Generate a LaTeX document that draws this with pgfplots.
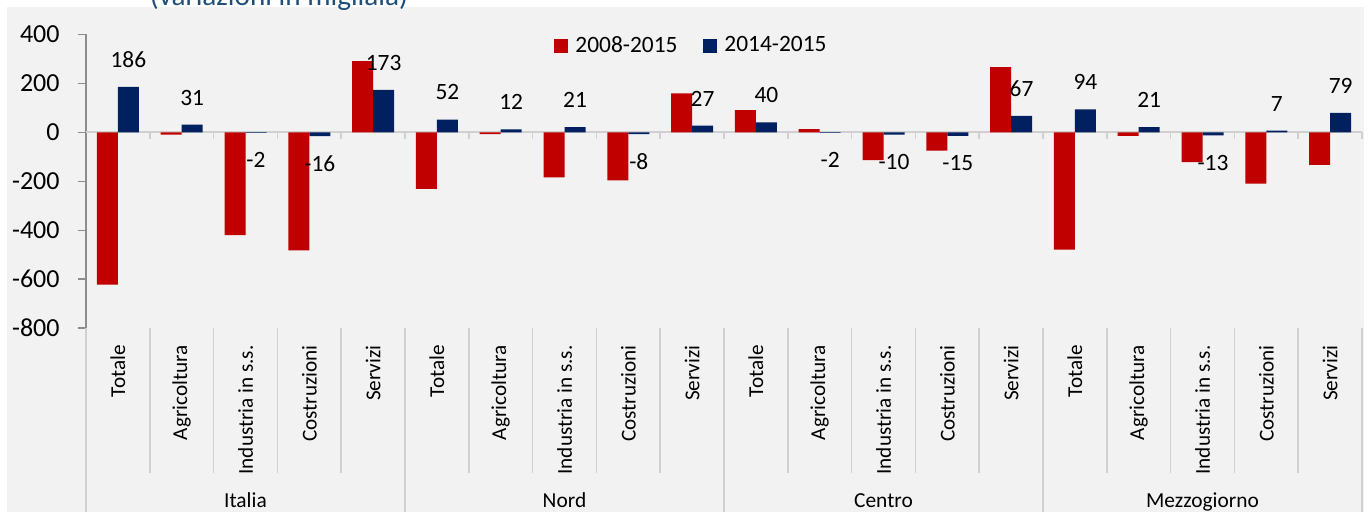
\documentclass[border=0pt]{standalone}
\usepackage{fontspec}
\setmainfont{Carlito}
\usepackage{pgfplots}
\pgfplotsset{compat=1.18}
\definecolor{cred}{HTML}{C00000}
\definecolor{cnavy}{HTML}{002060}
\definecolor{bggray}{HTML}{F2F2F2}
\definecolor{axgray}{HTML}{8C8C8C}
\definecolor{sepgray}{HTML}{D0D0D0}
\definecolor{titleblue}{HTML}{1F4E79}
\begin{document}
\begin{tikzpicture}
\fill[bggray] (-39.5pt,-92pt) rectangle (639pt,160.5pt);
\node[anchor=base, font=\fontsize{14.6}{17}\selectfont, text=titleblue, inner sep=0pt] at (96.5pt,161.25pt) {(variazioni in migliaia)};
\begin{axis}[
  at={(0pt,0pt)}, anchor=south west,
  scale only axis, width=638pt, height=146.8pt,
  xmin=-0.5, xmax=19.5, ymin=-800, ymax=400,
  ybar=0pt, bar width=10.5pt,
  axis x line*=bottom, axis y line*=left,
  x axis line style={draw=none},
  y axis line style={draw=axgray, line width=0.6pt},
  tick align=outside, major tick length=4pt,
  xtick={0,...,19},
  xticklabels={Totale,Agricoltura,Industria in s.s.,Costruzioni,Servizi,Totale,Agricoltura,Industria in s.s.,Costruzioni,Servizi,Totale,Agricoltura,Industria in s.s.,Costruzioni,Servizi,Totale,Agricoltura,Industria in s.s.,Costruzioni,Servizi},
  xtick style={draw=none},
  xticklabel style={yshift=-4.5pt, rotate=90, anchor=east, inner sep=0pt, font=\fontsize{10.6}{12}\selectfont},
  ytick={-800,-600,...,400},
  ytick style={draw=axgray, line width=0.6pt},
  yticklabel style={font=\fontsize{13}{15}\selectfont, inner sep=0pt, xshift=-9pt},
  /pgf/number format/assume math mode=true,
  clip=false,
  legend columns=2,
  legend style={at={(0.3668,0.962)}, anchor=west, draw=none, fill=none, inner sep=0pt, font=\fontsize{11.7}{14}\selectfont, nodes={inner xsep=3.5pt, inner ysep=0pt}, /tikz/every even column/.append style={column sep=9.5pt}},
  legend image code/.code={\fill[#1] (0pt,-3.5pt) rectangle (7pt,3.5pt);},
]
\draw[sepgray, line width=0.8pt] (axis cs:-0.5,0) -- (axis cs:19.5,0);
\pgfplotsinvokeforeach{0.5,1.5,2.5,3.5,4.5,5.5,6.5,7.5,8.5,9.5,10.5,11.5,12.5,13.5,14.5,15.5,16.5,17.5,18.5,19.5}{
  \draw[sepgray, line width=0.8pt] (axis cs:#1,0) -- ++(0pt,-3.5pt);
}
\pgfplotsinvokeforeach{0.5,1.5,2.5,3.5,5.5,6.5,7.5,8.5,10.5,11.5,12.5,13.5,15.5,16.5,17.5,18.5}{
  \draw[sepgray, line width=0.8pt] (axis cs:#1,-800) -- ++(0pt,-72.5pt);
}
\pgfplotsinvokeforeach{-0.5,4.5,9.5,14.5,19.5}{
  \draw[sepgray, line width=0.8pt] (axis cs:#1,-800) -- ++(0pt,-92pt);
}
\addplot[fill=cred, draw=none] coordinates {
 (0,-623) (1,-10) (2,-420) (3,-483) (4,291)
 (5,-231) (6,-8) (7,-184) (8,-197) (9,159)
 (10,90) (11,13) (12,-114) (13,-75) (14,266)
 (15,-480) (16,-15) (17,-122) (18,-210) (19,-133)};
\addlegendentry{2008-2015}
\addplot[fill=cnavy, draw=none, nodes near coords, nodes near coords align={vertical},
  every node near coord/.append style={font=\fontsize{11.7}{14}\selectfont, text=black, inner xsep=0pt, inner ysep=9.5pt}] coordinates {
 (0,186) (1,31) (2,-2) (3,-16) (4,173)
 (5,52) (6,12) (7,21) (8,-8) (9,27)
 (10,40) (11,-2) (12,-10) (13,-15) (14,67)
 (15,94) (16,21) (17,-13) (18,7) (19,79)};
\addlegendentry{2014-2015}
\node[anchor=base, yshift=-90pt, font=\fontsize{10.7}{12}\selectfont] at (axis cs:2,-800) {Italia};
\node[anchor=base, yshift=-90pt, font=\fontsize{10.7}{12}\selectfont] at (axis cs:7,-800) {Nord};
\node[anchor=base, yshift=-90pt, font=\fontsize{10.7}{12}\selectfont] at (axis cs:12,-800) {Centro};
\node[anchor=base, yshift=-90pt, font=\fontsize{10.7}{12}\selectfont] at (axis cs:17,-800) {Mezzogiorno};
\end{axis}
\pgfresetboundingbox
\path (-43pt,-92pt) rectangle (642pt,164pt);
\end{tikzpicture}
\end{document}
